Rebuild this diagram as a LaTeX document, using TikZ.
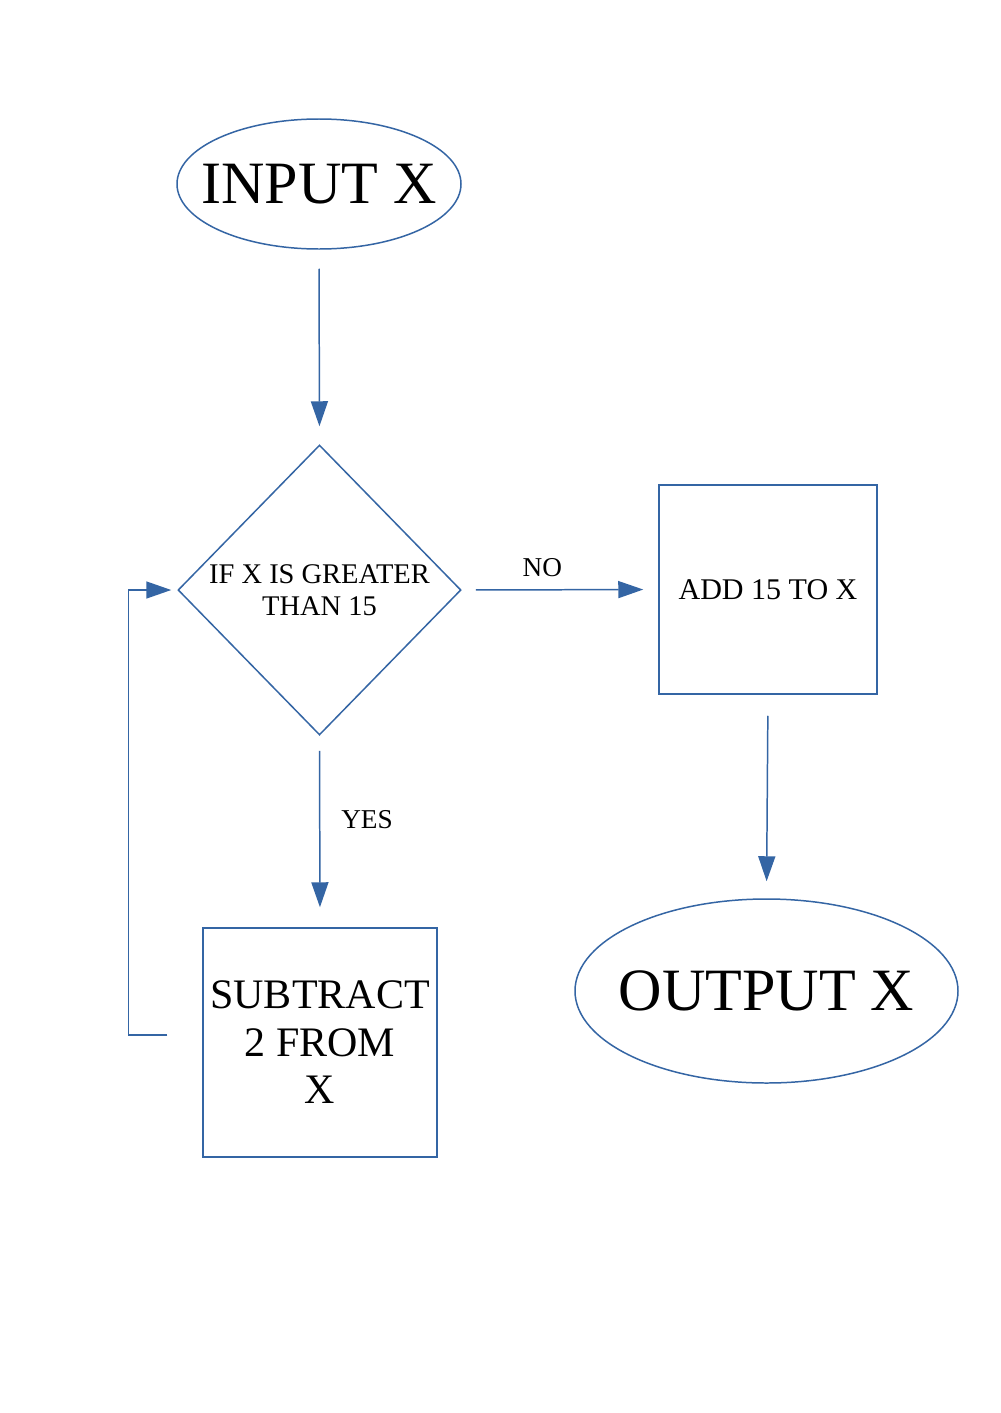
\documentclass[tikz,border=0pt]{standalone}
\usepackage{fontspec}
\setmainfont{Liberation Serif}
\usetikzlibrary{shapes.geometric,arrows.meta,calc}
\definecolor{lo}{HTML}{3465A4}
\begin{document}
\begin{tikzpicture}[
  shapeline/.style={draw=lo, line width=0.85pt},
  arr/.style={draw=lo, line width=0.85pt, -{Triangle[length=0.5cm,width=0.34cm]}},
  bigtext/.style={font=\fontsize{34.2}{40}\selectfont},
  subtext/.style={font=\fontsize{23.9}{27}\selectfont},
  diatext/.style={font=\fontsize{16.2}{18.2}\selectfont},
  addtext/.style={font=\fontsize{17.1}{20}\selectfont},
  smalltext/.style={font=\fontsize{15.5}{18.2}\selectfont},
]
\useasboundingbox[fill=white] (0,0) rectangle (20,-28.26);

\node[shapeline, ellipse, minimum width=5.68cm, minimum height=2.6cm, inner sep=0pt, bigtext] (in) at (6.38,-3.68) {\makebox[0pt]{INPUT X}};

\node[shapeline, diamond, minimum width=5.66cm, minimum height=5.8cm, inner sep=0pt, diatext, align=center] (dia) at (6.39,-11.8) {\makebox[0pt]{IF X IS GREATER}\\\makebox[0pt]{THAN 15}};

\node[shapeline, rectangle, minimum width=4.36cm, minimum height=4.18cm, addtext] (add) at (15.36,-11.79) {ADD 15 TO X};

\node[shapeline, ellipse, minimum width=7.66cm, minimum height=3.68cm, inner sep=0pt, bigtext] (out) at (15.33,-19.82) {\makebox[0pt]{OUTPUT X}};

\node[shapeline, rectangle, minimum width=4.68cm, minimum height=4.58cm, subtext, align=center] (sub) at (6.4,-20.85) {SUBTRACT\\2 FROM\\X};

\draw[arr, shorten <=0.38cm, shorten >=0.36cm] (in.south) -- (dia.north);
\draw[arr, shorten <=0.28cm, shorten >=0.3cm] (dia.east) -- node[above=0.12cm, smalltext, pos=0.41] (no) {NO} (add.west);
\draw[arr, shorten <=0.42cm, shorten >=0.34cm] (add.south) -- (out.north);
\draw[arr, shorten <=0.3cm, shorten >=0.4cm] (dia.south) -- node[right=0.3cm, smalltext, pos=0.44] (yes) {YES} (sub.north);

\coordinate (l1) at ($(sub.west)+(-0.7,0.15)$);
\draw[arr, shorten >=0.12cm] (l1) -- ++(-0.78,0) |- (dia.west);
\end{tikzpicture}
\end{document}
